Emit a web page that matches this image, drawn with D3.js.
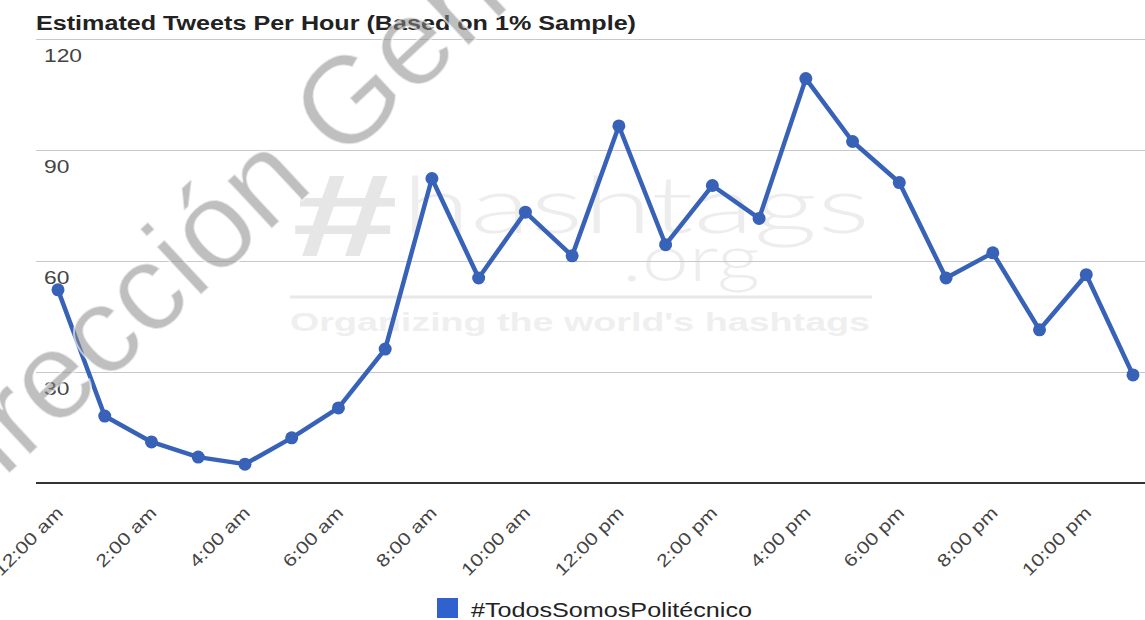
<!DOCTYPE html>
<html>
<head>
<meta charset="utf-8">
<script src="https://cdn.jsdelivr.net/npm/d3@7/dist/d3.min.js"></script>
<style>
  html, body { margin: 0; padding: 0; background: #fff; }
  svg { display: block; }
</style>
</head>
<body>
<svg id="chart" width="1145" height="620"></svg>
<script>
// ---- data ----
const hours = ["12:00 am","1:00 am","2:00 am","3:00 am","4:00 am","5:00 am","6:00 am","7:00 am",
  "8:00 am","9:00 am","10:00 am","11:00 am","12:00 pm","1:00 pm","2:00 pm","3:00 pm",
  "4:00 pm","5:00 pm","6:00 pm","7:00 pm","8:00 pm","9:00 pm","10:00 pm","11:00 pm"];
const tweets = [52.2, 18.1, 11.1, 7.0, 5.1, 12.2, 20.3, 36.2, 82.3, 55.4, 73.2, 61.4,
  96.5, 64.4, 80.4, 71.5, 109.3, 92.3, 81.2, 55.4, 62.2, 41.4, 56.3, 29.2];
const xTickLabels = ["12:00 am","2:00 am","4:00 am","6:00 am","8:00 am","10:00 am",
  "12:00 pm","2:00 pm","4:00 pm","6:00 pm","8:00 pm","10:00 pm"];
const yTicks = [30, 60, 90, 120];
const seriesName = "#TodosSomosPolitécnico";
const title = "Estimated Tweets Per Hour (Based on 1% Sample)";

// ---- chart ----
const svg = d3.select("#chart");
const FONT = "Arial, 'Liberation Sans', sans-serif";
const lineColor = "#3862b8";

const x = d3.scalePoint().domain(hours).range([58, 1133]);
const y = d3.scaleLinear().domain([0, 120]).range([483, 39]);

function stretch(sel, k) {
  sel.each(function() {
    const w = this.getComputedTextLength();
    d3.select(this).attr("textLength", w * k).attr("lengthAdjust", "spacingAndGlyphs");
  });
}

// watermark logo (behind)
const logo = svg.append("g").attr("font-family", FONT);
logo.append("text").attr("x", 292).attr("y", 256)
  .attr("font-size", 116).attr("font-weight", "bold").attr("fill", "#e6e6e6").text("#")
  .attr("textLength", 106).attr("lengthAdjust", "spacingAndGlyphs");
logo.append("text").attr("x", 402).attr("y", 233)
  .attr("font-family", "Lato, 'Open Sans', sans-serif").attr("font-weight", 300)
  .attr("font-size", 78).attr("fill", "#ededed").text("hashtags")
  .attr("textLength", 468).attr("lengthAdjust", "spacingAndGlyphs");
logo.append("text").attr("x", 622).attr("y", 281)
  .attr("font-family", "Lato, 'Open Sans', sans-serif").attr("font-weight", 300)
  .attr("font-size", 66).attr("fill", "#ededed").text(".org")
  .attr("textLength", 138).attr("lengthAdjust", "spacingAndGlyphs");
logo.append("line").attr("x1", 290).attr("x2", 872).attr("y1", 297).attr("y2", 297)
  .attr("stroke", "#e8e8e8").attr("stroke-width", 3);
logo.append("text").attr("x", 290).attr("y", 331)
  .attr("font-size", 25).attr("font-weight", "bold").attr("fill", "#efefef")
  .text("Organizing the world's hashtags")
  .attr("textLength", 580).attr("lengthAdjust", "spacingAndGlyphs");

// gridlines
svg.append("g").selectAll("line").data(yTicks).join("line")
  .attr("x1", 36).attr("x2", 1145)
  .attr("y1", d => Math.round(y(d)) + 0.5).attr("y2", d => Math.round(y(d)) + 0.5)
  .attr("stroke", "#c8c8c8").attr("stroke-width", 1);

// y labels
svg.append("g").selectAll("text").data(yTicks).join("text")
  .attr("x", 44).attr("y", d => y(d) + 23)
  .attr("font-family", FONT).attr("font-size", 19).attr("fill", "#444")
  .text(d => d)
  .call(stretch, 1.2);

// baseline
svg.append("line").attr("x1", 36).attr("x2", 1145)
  .attr("y1", y(0)).attr("y2", y(0))
  .attr("stroke", "#333").attr("stroke-width", 2);

// title
svg.append("text").attr("x", 36).attr("y", 30)
  .attr("font-family", FONT).attr("font-size", 19.5).attr("font-weight", "bold").attr("fill", "#222")
  .text(title)
  .attr("textLength", 600).attr("lengthAdjust", "spacingAndGlyphs");

// x labels
svg.append("g").selectAll("text").data(xTickLabels).join("text")
  .attr("text-anchor", "end")
  .attr("transform", d => `translate(${x(d) + 6},${514}) rotate(-45)`)
  .attr("font-family", FONT).attr("font-size", 17.5).attr("fill", "#444")
  .text(d => d)
  .call(stretch, 1.22);

// line series
const line = d3.line().x((d, i) => x(hours[i])).y(d => y(d));
svg.append("path").datum(tweets)
  .attr("d", line).attr("fill", "none")
  .attr("stroke", lineColor).attr("stroke-width", 4.5)
  .attr("stroke-linejoin", "round");
svg.append("g").selectAll("circle").data(tweets).join("circle")
  .attr("cx", (d, i) => x(hours[i])).attr("cy", d => y(d)).attr("r", 6.5)
  .attr("fill", lineColor);

// legend
svg.append("rect").attr("x", 437).attr("y", 598).attr("width", 21).attr("height", 20)
  .attr("fill", "#2f62cc");
svg.append("text").attr("x", 471).attr("y", 617)
  .attr("font-family", FONT).attr("font-size", 20).attr("fill", "#222")
  .text(seriesName)
  .attr("textLength", 281).attr("lengthAdjust", "spacingAndGlyphs");

// diagonal watermark (on top)
svg.append("text")
  .attr("transform", "translate(-62,540) rotate(-43)")
  .attr("font-family", FONT).attr("font-size", 124)
  .attr("fill", "#8a8a8a").attr("fill-opacity", 0.55)
  .attr("stroke", "#fff").attr("stroke-opacity", 0.6).attr("stroke-width", 2)
  .text("Dirección General");
</script>
</body>
</html>
